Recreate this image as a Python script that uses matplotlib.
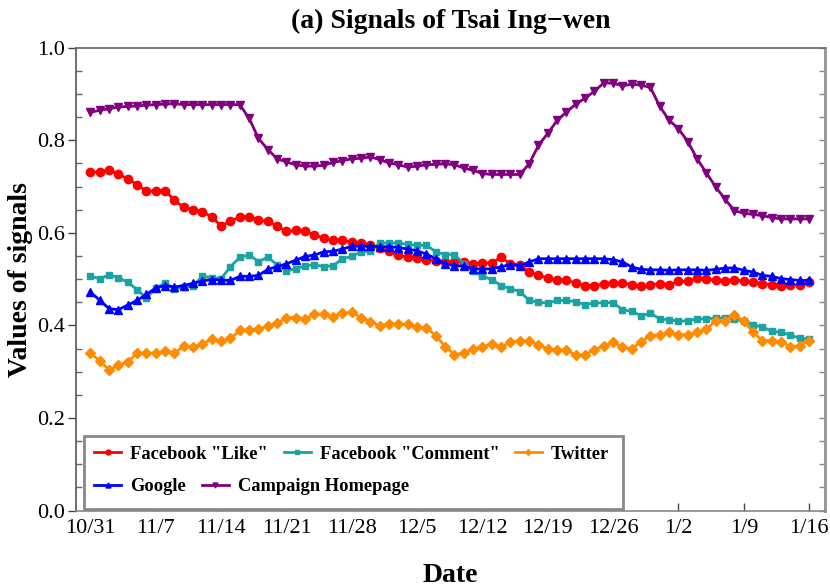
import matplotlib
matplotlib.use("Agg")
import matplotlib.pyplot as plt
from matplotlib.patches import Rectangle
import numpy as np
import pandas as pd

# ---- data ----
start_date = "2015-10-31"
end_date = "2016-01-16"

fb_like = [0.731, 0.731, 0.736, 0.726, 0.717, 0.704, 0.690, 0.690, 0.691, 0.670,
           0.655, 0.650, 0.646, 0.634, 0.615, 0.625, 0.634, 0.634, 0.627, 0.625,
           0.615, 0.603, 0.605, 0.603, 0.596, 0.588, 0.584, 0.584, 0.580, 0.578,
           0.573, 0.567, 0.560, 0.552, 0.547, 0.545, 0.542, 0.540, 0.537, 0.538,
           0.537, 0.533, 0.534, 0.535, 0.547, 0.533, 0.531, 0.515, 0.508, 0.502,
           0.498, 0.498, 0.491, 0.486, 0.485, 0.490, 0.492, 0.492, 0.488, 0.484,
           0.488, 0.490, 0.488, 0.495, 0.495, 0.503, 0.501, 0.497, 0.495, 0.499,
           0.495, 0.493, 0.490, 0.488, 0.484, 0.488, 0.487, 0.493]

fb_comment = [0.506, 0.501, 0.509, 0.503, 0.493, 0.477, 0.459, 0.481, 0.491, 0.479,
              0.483, 0.486, 0.506, 0.503, 0.501, 0.527, 0.547, 0.552, 0.538, 0.547,
              0.531, 0.518, 0.522, 0.529, 0.531, 0.527, 0.529, 0.544, 0.549, 0.559,
              0.561, 0.578, 0.578, 0.578, 0.575, 0.573, 0.573, 0.559, 0.553, 0.553,
              0.533, 0.517, 0.506, 0.499, 0.486, 0.479, 0.473, 0.454, 0.450, 0.448,
              0.454, 0.454, 0.451, 0.445, 0.448, 0.449, 0.449, 0.434, 0.430, 0.421,
              0.426, 0.414, 0.412, 0.409, 0.410, 0.414, 0.414, 0.416, 0.416, 0.414,
              0.409, 0.400, 0.397, 0.387, 0.385, 0.379, 0.372, 0.371]

twitter = [0.340, 0.323, 0.304, 0.314, 0.321, 0.340, 0.340, 0.340, 0.344, 0.340,
           0.355, 0.353, 0.359, 0.371, 0.366, 0.372, 0.389, 0.391, 0.392, 0.398,
           0.405, 0.416, 0.417, 0.414, 0.424, 0.424, 0.419, 0.426, 0.428, 0.417,
           0.408, 0.399, 0.404, 0.403, 0.403, 0.396, 0.394, 0.378, 0.354, 0.337,
           0.340, 0.349, 0.354, 0.360, 0.354, 0.363, 0.367, 0.366, 0.358, 0.349,
           0.347, 0.347, 0.335, 0.337, 0.347, 0.356, 0.363, 0.353, 0.349, 0.365,
           0.378, 0.380, 0.385, 0.380, 0.380, 0.385, 0.392, 0.410, 0.409, 0.423,
           0.409, 0.385, 0.367, 0.367, 0.365, 0.354, 0.356, 0.367]

google = [0.472, 0.454, 0.436, 0.434, 0.444, 0.454, 0.467, 0.481, 0.486, 0.483,
          0.486, 0.491, 0.496, 0.499, 0.498, 0.497, 0.506, 0.506, 0.508, 0.521,
          0.527, 0.533, 0.541, 0.549, 0.552, 0.559, 0.560, 0.565, 0.571, 0.571,
          0.571, 0.570, 0.570, 0.568, 0.565, 0.561, 0.554, 0.544, 0.533, 0.529,
          0.528, 0.522, 0.522, 0.522, 0.527, 0.531, 0.529, 0.537, 0.544, 0.544,
          0.544, 0.544, 0.544, 0.544, 0.544, 0.544, 0.542, 0.537, 0.526, 0.521,
          0.520, 0.520, 0.519, 0.520, 0.520, 0.520, 0.519, 0.521, 0.524, 0.524,
          0.519, 0.515, 0.508, 0.506, 0.501, 0.499, 0.497, 0.497]

homepage = [0.860, 0.865, 0.868, 0.872, 0.873, 0.874, 0.876, 0.877, 0.878, 0.879,
            0.877, 0.877, 0.877, 0.877, 0.877, 0.877, 0.877, 0.847, 0.804, 0.780,
            0.760, 0.753, 0.747, 0.744, 0.744, 0.746, 0.752, 0.756, 0.760, 0.761,
            0.764, 0.758, 0.751, 0.747, 0.742, 0.744, 0.747, 0.748, 0.749, 0.747,
            0.740, 0.735, 0.728, 0.726, 0.726, 0.726, 0.726, 0.749, 0.789, 0.815,
            0.843, 0.861, 0.878, 0.891, 0.906, 0.924, 0.923, 0.918, 0.921, 0.919,
            0.914, 0.873, 0.843, 0.825, 0.797, 0.760, 0.729, 0.699, 0.672, 0.648,
            0.642, 0.640, 0.637, 0.633, 0.630, 0.630, 0.630, 0.630]

series_names = ['Facebook "Like"', 'Facebook "Comment"', 'Twitter', 'Google', 'Campaign Homepage']
tick_every_days = 7

# ---- plot ----
plt.rcParams['font.family'] = ['Liberation Serif', 'DejaVu Serif']

dates = pd.date_range(start_date, end_date, freq="D")
x = matplotlib.dates.date2num(dates.to_pydatetime())

fig = plt.figure(figsize=(8.3, 5.88), dpi=100)
ax = fig.add_axes([0.0916, 0.1318, 0.9024, 0.7871])

styles = [
    dict(color='#FF0000', marker='o', ms=6.0),
    dict(color='#1AA3A3', marker='s', ms=4.0),
    dict(color='#FF8C00', marker='D', ms=5.0),
    dict(color='#0000FF', marker='^', ms=6.0),
    dict(color='#800080', marker='v', ms=6.0),
]
data = [fb_like, fb_comment, twitter, google, homepage]
handles = []
for vals, name, st in zip(data, series_names, styles):
    h, = ax.plot(x, vals, color=st['color'], marker=st['marker'], ms=st['ms'],
                 lw=2.0, mec=st['color'], mfc=st['color'], label=name, clip_on=False)
    handles.append(h)

day = 1.0
ax.set_xlim(x[0] - 1.55 * day, x[-1] + 1.7 * day)
ax.set_ylim(0, 1.0)

ticks = x[::tick_every_days]
ax.set_xticks(ticks)
ax.set_xticklabels([f"{d.month}/{d.day}" for d in dates[::tick_every_days]])
ax.set_yticks(np.arange(0, 1.01, 0.2))
ax.set_yticklabels([f"{v:.1f}" for v in np.arange(0, 1.01, 0.2)])
ax.set_yticks(np.arange(0, 1.001, 0.05), minor=True)

ax.tick_params(axis='x', which='major', direction='in', length=6, width=1.0,
               color='#444444', labelsize=16, pad=6, top=False)
ax.tick_params(axis='y', which='major', direction='out', length=6, width=1.0,
               color='#444444', labelsize=16, pad=2, right=False)
ax.tick_params(axis='y', which='minor', direction='in', length=4, width=1.0,
               color='#666666', right=False)
ax.tick_params(axis='x', which='minor', bottom=False, top=False)

# right side ticks (inward, no labels)
sec = ax.secondary_yaxis('right')
sec.set_yticks(np.arange(0, 1.01, 0.2))
sec.set_yticks(np.arange(0, 1.001, 0.05), minor=True)
sec.tick_params(which='both', direction='in', length=4, width=1.0, color='#888888',
                labelright=False)
sec.spines['right'].set_color('#999999')
sec.spines['right'].set_linewidth(2.0)

for side in ['left', 'bottom', 'top']:
    ax.spines[side].set_linewidth(1.2)
ax.spines['left'].set_color('#555555')
ax.spines['bottom'].set_color('#888888')
ax.spines['top'].set_color('#666666')
ax.spines['right'].set_color('#999999')
ax.spines['right'].set_linewidth(2.0)

ax.set_title('(a) Signals of Tsai Ing\u2212wen', fontsize=20, fontweight='bold', pad=14)
ax.set_xlabel('Date', fontsize=20, fontweight='bold', labelpad=18)
ax.set_ylabel('Values of signals', fontsize=20, fontweight='bold', labelpad=3)

# Legend: two flowing rows inside a gray box
leg_kw = dict(prop={'weight': 'bold', 'size': 13.3}, frameon=False,
              handlelength=1.46, handletextpad=0.49, columnspacing=0.84,
              markerscale=0.6, borderpad=0.0, borderaxespad=0.0, loc='center left')
leg1 = ax.legend(handles[:3], series_names[:3], ncol=3,
                 bbox_to_anchor=(0.0244, 0.122), **leg_kw)
ax.add_artist(leg1)
leg2 = ax.legend(handles[3:], series_names[3:], ncol=2,
                 bbox_to_anchor=(0.0244, 0.051), **leg_kw)
box = Rectangle((0.0107, 0.004), 0.7195, 0.157, transform=ax.transAxes,
                facecolor='white', edgecolor='#888888', linewidth=2.0, zorder=4.5)
ax.add_patch(box)
leg1.set_zorder(5)
leg2.set_zorder(5)

fig.savefig('out.png', dpi=100)
